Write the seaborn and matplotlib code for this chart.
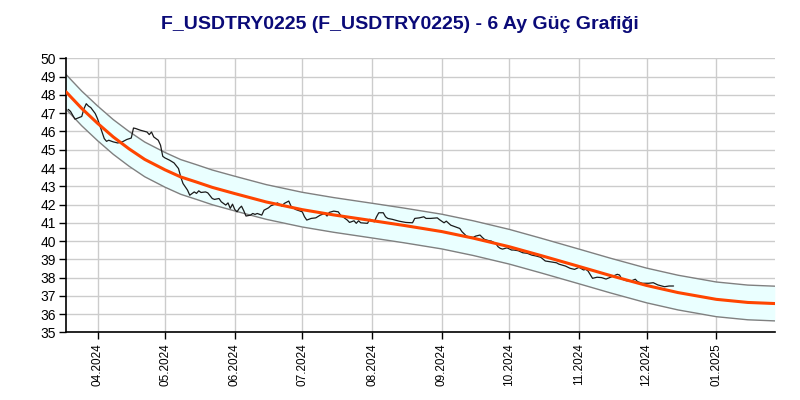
import matplotlib
matplotlib.use("Agg")
import matplotlib.pyplot as plt
import matplotlib.dates as mdates
import seaborn as sns
import pandas as pd

title = "F_USDTRY0225 (F_USDTRY0225) - 6 Ay Güç Grafiği"

price_dates = [
    "2024-03-19", "2024-03-20", "2024-03-22", "2024-03-25", "2024-03-26", "2024-03-27", "2024-03-28",
    "2024-03-29", "2024-03-31", "2024-04-01", "2024-04-02", "2024-04-03", "2024-04-04", "2024-04-05",
    "2024-04-06", "2024-04-08", "2024-04-10", "2024-04-12", "2024-04-14", "2024-04-16", "2024-04-17",
    "2024-04-18", "2024-04-20", "2024-04-23", "2024-04-24", "2024-04-25", "2024-04-26", "2024-04-28",
    "2024-04-29", "2024-04-30", "2024-05-01", "2024-05-03", "2024-05-05", "2024-05-07", "2024-05-08",
    "2024-05-09", "2024-05-11", "2024-05-12", "2024-05-14", "2024-05-15", "2024-05-16", "2024-05-17",
    "2024-05-19", "2024-05-20", "2024-05-22", "2024-05-23", "2024-05-25", "2024-05-26", "2024-05-28",
    "2024-05-29", "2024-05-30", "2024-05-31", "2024-06-01", "2024-06-02", "2024-06-03", "2024-06-04",
    "2024-06-05", "2024-06-06", "2024-06-08", "2024-06-09", "2024-06-10", "2024-06-11", "2024-06-13",
    "2024-06-14", "2024-06-16", "2024-06-17", "2024-06-19", "2024-06-20", "2024-06-22", "2024-06-23",
    "2024-06-25", "2024-06-26", "2024-06-28", "2024-07-01", "2024-07-02", "2024-07-03", "2024-07-05",
    "2024-07-07", "2024-07-09", "2024-07-11", "2024-07-12", "2024-07-13", "2024-07-15", "2024-07-17",
    "2024-07-18", "2024-07-21", "2024-07-22", "2024-07-24", "2024-07-25", "2024-07-26", "2024-07-27",
    "2024-07-30", "2024-07-31", "2024-08-01", "2024-08-02", "2024-08-03", "2024-08-04", "2024-08-06",
    "2024-08-07", "2024-08-08", "2024-08-10", "2024-08-13", "2024-08-16", "2024-08-19", "2024-08-20",
    "2024-08-22", "2024-08-24", "2024-08-25", "2024-08-27", "2024-08-30", "2024-08-31", "2024-09-02",
    "2024-09-03", "2024-09-05", "2024-09-07", "2024-09-09", "2024-09-10", "2024-09-12", "2024-09-13",
    "2024-09-15", "2024-09-16", "2024-09-18", "2024-09-19", "2024-09-20", "2024-09-22", "2024-09-23",
    "2024-09-25", "2024-09-26", "2024-09-27", "2024-09-28", "2024-09-30", "2024-10-02", "2024-10-03",
    "2024-10-05", "2024-10-07", "2024-10-09", "2024-10-11", "2024-10-13", "2024-10-15", "2024-10-17",
    "2024-10-19", "2024-10-22", "2024-10-23", "2024-10-26", "2024-10-28", "2024-10-30", "2024-11-01",
    "2024-11-03", "2024-11-04", "2024-11-05", "2024-11-07", "2024-11-09", "2024-11-11", "2024-11-13",
    "2024-11-15", "2024-11-18", "2024-11-19", "2024-11-20", "2024-11-22", "2024-11-24", "2024-11-26",
    "2024-11-27", "2024-11-29", "2024-12-02", "2024-12-04", "2024-12-06", "2024-12-09", "2024-12-11",
    "2024-12-13",
]
price_values = [
    47.21, 47.10, 46.67, 46.82, 47.25, 47.52, 47.39,
    47.31, 46.98, 46.70, 46.34, 45.97, 45.61, 45.46,
    45.52, 45.43, 45.37, 45.43, 45.56, 45.64, 46.19,
    46.16, 46.07, 45.97, 45.83, 45.97, 45.70, 45.52,
    45.25, 44.64, 44.55, 44.43, 44.28, 43.97, 43.51,
    43.15, 42.79, 42.51, 42.69, 42.61, 42.75, 42.66,
    42.69, 42.64, 42.33, 42.28, 42.33, 42.15, 41.97,
    42.09, 41.79, 42.02, 41.73, 41.60, 41.79, 41.91,
    41.66, 41.37, 41.42, 41.51, 41.46, 41.51, 41.42,
    41.69, 41.82, 41.93, 42.02, 42.09, 41.91, 42.06,
    42.19, 41.91, 41.73, 41.60, 41.33, 41.15, 41.24,
    41.27, 41.42, 41.51, 41.37, 41.57, 41.64, 41.60,
    41.42, 41.15, 41.02, 41.11, 40.97, 41.11, 41.00,
    40.97, 41.19, 41.15, 41.05, 41.33, 41.55, 41.55,
    41.33, 41.24, 41.19, 41.09, 41.02, 41.00, 41.24,
    41.27, 41.33, 41.24, 41.24, 41.27, 41.17, 41.00,
    41.09, 40.87, 40.78, 40.69, 40.51, 40.27, 40.23,
    40.20, 40.27, 40.33, 40.20, 40.09, 40.02, 40.00,
    39.87, 39.69, 39.60, 39.56, 39.63, 39.51, 39.51,
    39.47, 39.36, 39.33, 39.23, 39.18, 39.11, 38.91,
    38.87, 38.81, 38.74, 38.63, 38.51, 38.45, 38.56,
    38.42, 38.45, 38.36, 37.96, 38.02, 38.00, 37.92,
    38.02, 38.18, 38.14, 37.92, 37.83, 37.81, 37.91,
    37.78, 37.69, 37.69, 37.72, 37.60, 37.50, 37.54,
    37.54,
]

trend_dates = [
    "2024-03-18", "2024-03-25", "2024-04-01", "2024-04-08", "2024-04-15", "2024-04-22",
    "2024-05-01", "2024-05-08", "2024-05-15", "2024-05-22", "2024-06-01", "2024-06-15",
    "2024-07-01", "2024-07-15", "2024-08-01", "2024-08-15", "2024-09-01", "2024-09-15",
    "2024-10-01", "2024-10-15", "2024-11-01", "2024-11-15", "2024-12-01", "2024-12-15",
    "2025-01-01", "2025-01-15", "2025-01-27",
]
trend_values = [
    48.17, 47.26, 46.45, 45.70, 45.05, 44.47,
    43.90, 43.51, 43.23, 42.94, 42.60, 42.14,
    41.72, 41.43, 41.12, 40.86, 40.52, 40.16,
    39.69, 39.21, 38.61, 38.11, 37.57, 37.18,
    36.81, 36.64, 36.58,
]
upper_values = [v + 0.95 for v in trend_values]
lower_values = [v - 0.95 for v in trend_values]

tick_months = ["2024-04-01", "2024-05-01", "2024-06-01", "2024-07-01", "2024-08-01",
               "2024-09-01", "2024-10-01", "2024-11-01", "2024-12-01", "2025-01-01"]

price_df = pd.DataFrame({"date": pd.to_datetime(price_dates), "value": price_values})
trend_df = pd.DataFrame({"date": pd.to_datetime(trend_dates), "value": trend_values,
                         "upper": upper_values, "lower": lower_values})

sns.set_style("white")
plt.rcParams["font.family"] = ["Liberation Sans", "DejaVu Sans"]

fig = plt.figure(figsize=(8, 4), dpi=100)
ax = fig.add_axes([0.0825, 0.169, 0.886, 0.685])

ax.fill_between(trend_df["date"], trend_df["lower"], trend_df["upper"],
                color="#eaffff", zorder=1, linewidth=0)
sns.lineplot(data=trend_df, x="date", y="upper", ax=ax, color="#808080", linewidth=1.0, zorder=2)
sns.lineplot(data=trend_df, x="date", y="lower", ax=ax, color="#808080", linewidth=1.0, zorder=2)
sns.lineplot(data=price_df, x="date", y="value", ax=ax, color="#1a1a1a", linewidth=0.9, zorder=3)
sns.lineplot(data=trend_df, x="date", y="value", ax=ax, color="#ff4500", linewidth=2.2, zorder=4)

ax.set_xlim(pd.Timestamp("2024-03-18"), pd.Timestamp("2025-01-27"))
ax.set_ylim(35, 50)
ax.set_yticks(range(35, 51))
ax.set_xticks(pd.to_datetime(tick_months))
ax.xaxis.set_major_formatter(mdates.DateFormatter("%m.%Y"))
ax.set_xlabel("")
ax.set_ylabel("")

ax.grid(True, color="#cccccc", linewidth=1.0, zorder=0)
ax.set_axisbelow(True)
for s in ["top", "right"]:
    ax.spines[s].set_visible(False)
for s in ["left", "bottom"]:
    ax.spines[s].set_color("black")
    ax.spines[s].set_linewidth(1.2)

ax.tick_params(axis="y", which="major", length=5, width=1, color="black",
               labelsize=10, labelcolor="black", left=True, pad=2)
ax.tick_params(axis="x", which="major", length=5, width=1, color="black",
               labelsize=8.5, labelcolor="black", bottom=True, rotation=90, pad=3)

fig.suptitle(title, x=0.5, y=0.96, fontsize=14, fontweight="bold", color="#0a0a78")

fig.savefig("out.png", dpi=100)
